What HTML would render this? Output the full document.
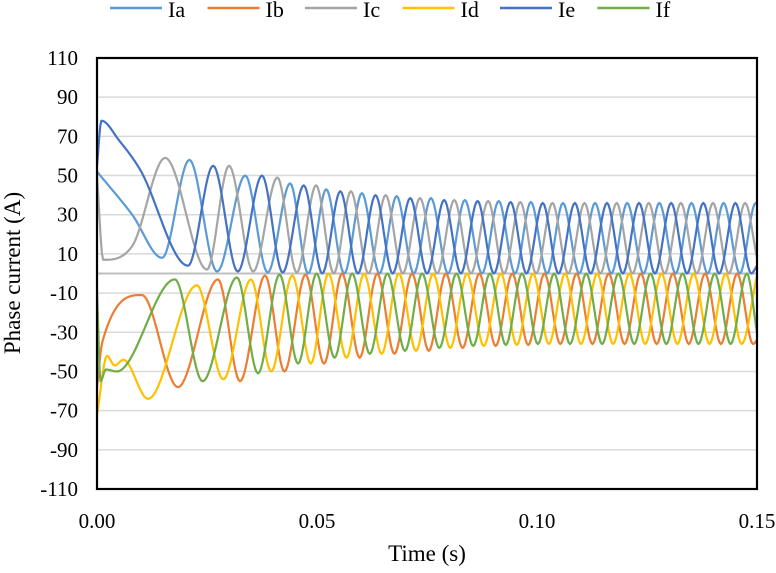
<!DOCTYPE html>
<html><head><meta charset="utf-8"><style>
body{margin:0;background:#fff}
svg text{font-family:"Liberation Serif",serif;fill:#000}
</style></head><body>
<svg id="chart" width="776" height="568" viewBox="0 0 776 568" xmlns="http://www.w3.org/2000/svg"></svg>
<script>
const yTicks=[110,90,70,50,30,10,-10,-30,-50,-70,-90,-110];
const gridVals=[90,70,50,30,10,0,-10,-30,-50,-70,-90];
const xTicks=[0,0.05,0.10,0.15];
const xTickLabels=["0.00","0.05","0.10","0.15"];
const seriesNames=["Ia","Ib","Ic","Id","Ie","If"];
const seriesColors=["#5B9BD5","#ED7D31","#A5A5A5","#FFC000","#4472C4","#70AD47"];
// points: [time (ms), current (A)]
const iaPoints=[[0,52],[8,30],[14.8,8],[21,58],[27.3,1],[33.7,50],[38.8,0.5],[43.9,46],[48,0],[52.1,43],[56.2,0],[60.2,41],[64.2,0],[68.1,39.5],[72,0],[75.9,38.5],[79.8,0],[83.6,37.5],[87.5,0],[91.3,37],[95,0],[98.6,36.5],[102.3,0],[105.9,36],[109.6,0],[113.2,36],[116.9,0],[120.5,36],[124.2,0],[127.8,36],[131.5,0],[135.1,36],[138.8,0],[142.4,36],[146.1,0],[149.7,36],[150,36]];
const ibPoints=[[0,-58],[1.2,-35],[10.2,-11],[18.4,-58],[27.5,-3],[32.5,-55],[38.2,-1],[42.6,-50],[47.4,-0.5],[51.6,-46],[55.7,0],[59.7,-43],[63.7,0],[67.6,-41],[71.6,0],[75.4,-39.5],[79.3,0],[83.1,-38],[86.9,0],[90.6,-37],[94.4,0],[98,-36.5],[101.7,0],[105.3,-36],[109,0],[112.6,-36],[116.3,0],[119.9,-36],[123.6,0],[127.2,-36],[130.9,0],[134.5,-36],[138.2,0],[141.8,-36],[145.5,0],[149.1,-36],[150,-34]];
const icPoints=[[0,50],[1.4,7],[8,14],[15.5,59],[25,2],[30,55],[35.5,1],[41,49],[45.4,0.5],[49.8,45],[53.8,0],[57.7,42],[61.7,0],[65.6,40],[69.5,0],[73.4,38.5],[77.3,0],[81.2,37.5],[85,0],[88.9,37],[92.5,0],[96.2,36.5],[99.8,0],[103.5,36],[107.1,0],[110.8,36],[114.4,0],[118.1,36],[121.7,0],[125.4,36],[129,0],[132.7,36],[136.3,0],[140,36],[143.6,0],[147.3,36],[150,8]];
const idPoints=[[0,-72],[2.3,-42],[4,-47],[6,-44],[11.6,-64],[22.7,-6],[28.7,-54],[35,-3],[39.6,-50],[44.4,-1],[48.6,-46],[52.6,0],[56.7,-43],[60.7,0],[64.7,-41],[68.6,0],[72.5,-39.5],[76.4,0],[80.3,-38],[84.1,0],[87.9,-37],[91.8,0],[95.4,-36.5],[99.1,0],[102.7,-36],[106.4,0],[110,-36],[113.7,0],[117.3,-36],[121,0],[124.6,-36],[128.3,0],[131.9,-36],[135.6,0],[139.2,-36],[142.9,0],[146.5,-36],[150,-1]];
const iePoints=[[0,55],[1,78],[5,68],[9.8,53],[20.7,4],[26.4,55],[32,1],[37.5,50],[42.2,0.5],[47,45],[51.2,0],[55.3,42],[59.3,0],[63.3,40],[67.2,0],[71.2,38.5],[75,0],[78.9,37.5],[82.7,0],[86.5,37],[90.2,0],[94,36.5],[97.6,0],[101.3,36],[104.9,0],[108.6,36],[112.2,0],[115.9,36],[119.5,0],[123.2,36],[126.8,0],[130.5,36],[134.1,0],[137.8,36],[141.4,0],[145.1,36],[148.7,0],[150,4]];
const ifPoints=[[0,-8],[0.8,-55],[2,-49],[4.5,-50],[17.7,-3],[24,-55],[31.8,-2],[36.6,-51],[41.5,-0.5],[45.7,-46],[49.9,0],[54,-43],[58,0],[62,-41],[66,0],[70,-39.5],[73.9,0],[77.8,-38],[81.7,0],[85.5,-37],[89.3,0],[92.9,-36.5],[96.6,0],[100.2,-36],[103.9,0],[107.5,-36],[111.2,0],[114.8,-36],[118.5,0],[122.1,-36],[125.8,0],[129.4,-36],[133.1,0],[136.7,-36],[140.4,0],[144,-36],[147.7,0],[150,-30]];
const allSeries=[iaPoints,ibPoints,icPoints,idPoints,iePoints,ifPoints];

const NS="http://www.w3.org/2000/svg";
const svg=document.getElementById('chart');
const L=97,R=757,T=58,B=489;
const xMin=0,xMax=0.15,yMin=-110,yMax=110;
function xs(v){return L+(v-xMin)/(xMax-xMin)*(R-L);}
function ys(v){return B-(v-yMin)/(yMax-yMin)*(B-T);}
function mk(tag,attrs){const e=document.createElementNS(NS,tag);for(const k in attrs)e.setAttribute(k,attrs[k]);svg.appendChild(e);return e;}

gridVals.forEach(v=>{
  const g=mk('line',{x1:L,x2:R,y1:ys(v),y2:ys(v),stroke:v===0?'#bfbfbf':'#d9d9d9','stroke-width':v===0?2:1.5});
  
  
});
yTicks.forEach(v=>{
  const t=mk('text',{x:78,y:ys(v)+7,'text-anchor':'end','font-size':21});
  t.textContent=v;
  
  
});
xTicks.forEach((v,i)=>{
  const t=mk('text',{x:xs(v),y:528,'text-anchor':'middle','font-size':21});
  t.textContent=xTickLabels[i];
  
  
});

function monotonePath(pts){
  const n=pts.length,x=pts.map(p=>p[0]),y=pts.map(p=>p[1]);
  const d=[],m=new Array(n);
  for(let i=0;i<n-1;i++)d.push((y[i+1]-y[i])/(x[i+1]-x[i]));
  m[0]=d[0];m[n-1]=d[n-2];
  for(let i=1;i<n-1;i++){m[i]=(d[i-1]*d[i]<=0)?0:(d[i-1]+d[i])/2;}
  for(let i=0;i<n-1;i++){
    if(d[i]===0){m[i]=0;m[i+1]=0;continue;}
    const a=m[i]/d[i],b=m[i+1]/d[i],s=a*a+b*b;
    if(s>9){const t=3/Math.sqrt(s);m[i]=t*a*d[i];m[i+1]=t*b*d[i];}
  }
  let s='M'+xs(x[0]/1000).toFixed(2)+','+ys(y[0]).toFixed(2);
  for(let i=0;i<n-1;i++){
    const h=x[i+1]-x[i],steps=Math.max(4,Math.ceil(h*3));
    for(let k=1;k<=steps;k++){
      const t=k/steps,t2=t*t,t3=t2*t;
      const v=(2*t3-3*t2+1)*y[i]+(t3-2*t2+t)*h*m[i]+(-2*t3+3*t2)*y[i+1]+(t3-t2)*h*m[i+1];
      const tt=x[i]+t*h;
      s+='L'+xs(tt/1000).toFixed(2)+','+ys(v).toFixed(2);
    }
  }
  return s;
}
const cp=mk('clipPath',{id:'clip'});
const cr=document.createElementNS(NS,'rect');
cr.setAttribute('x',L);cr.setAttribute('y',T);cr.setAttribute('width',R-L);cr.setAttribute('height',B-T);
cp.appendChild(cr);
allSeries.forEach((pts,i)=>{
  const p=mk('path',{d:monotonePath(pts),fill:'none',stroke:seriesColors[i],'stroke-width':2.2,'stroke-linejoin':'round','clip-path':'url(#clip)'});
  
  
});
const frame=mk('rect',{x:L,y:T,width:R-L,height:B-T,fill:'none',stroke:'#000','stroke-width':2.2});



seriesNames.forEach((nm,i)=>{
  const x0=110+i*97.5;
  const ln=mk('line',{x1:x0,x2:x0+52,y1:8,y2:8,stroke:seriesColors[i],'stroke-width':2.5});
  
  
  const t=mk('text',{x:x0+58,y:17,'font-size':22});
  t.textContent=nm;
  
  
});
const xt=mk('text',{x:427,y:561,'text-anchor':'middle','font-size':23});
xt.textContent='Time (s)';


const yt=mk('text',{x:0,y:0,'text-anchor':'middle','font-size':23,transform:'translate(20,273) rotate(-90)'});
yt.textContent='Phase current (A)';


</script>
</body></html>
